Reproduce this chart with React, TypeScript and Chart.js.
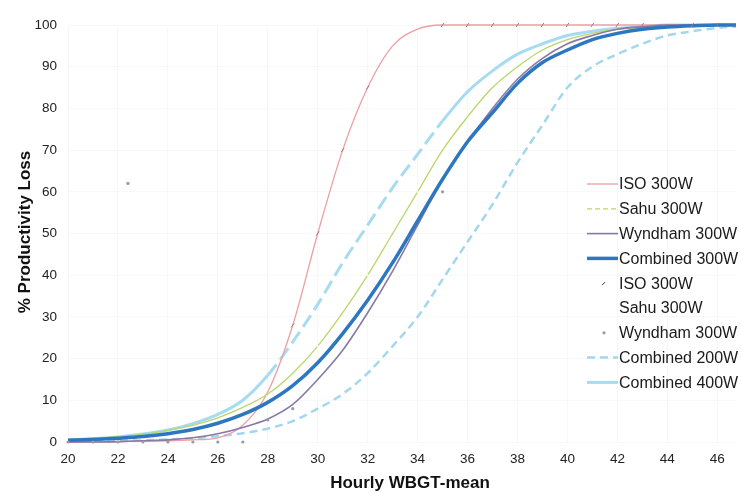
import React, { useEffect, useRef } from "react";
import { Chart, registerables } from "chart.js";

Chart.register(...registerables);

const wbgt = [20, 21, 22, 23, 24, 25, 26, 27, 28, 29, 30, 31, 32, 33, 34, 35, 36, 37, 38, 39, 40, 41, 42, 43, 44, 45, 46, 47];

const iso300 = [0, 0, 0.1, 0.2, 0.3, 0.5, 1, 4, 12, 28, 50, 70, 85, 95, 99, 100, 100, 100, 100, 100, 100, 100, 100, 100, 100, 100, 100, 100];
const sahu300 = [0.6, 0.9, 1.3, 1.9, 2.8, 4, 5.8, 8.3, 11.5, 16.5, 23, 31, 40, 50, 60, 70, 78, 85, 90, 94, 96.5, 98, 99, 99.5, 99.8, 100, 100, 100];
const wyndham300 = [0, 0, 0.1, 0.3, 0.5, 1, 2, 3.5, 5.5, 9, 15, 22, 31, 41, 52, 63, 72, 80, 87, 92, 95.5, 97.5, 99, 99.6, 100, 100, 100, 100];
const combined300 = [0.4, 0.6, 0.9, 1.3, 2, 3, 4.5, 6.6, 9.5, 13.5, 19, 26, 34, 43, 53, 63, 72, 79, 86, 91, 94, 96.5, 98, 99, 99.5, 99.8, 100, 100];
const combined200 = [0.1, 0.2, 0.3, 0.4, 0.6, 0.9, 1.4, 2.1, 3.2, 5, 8, 11.5, 16.5, 23, 30, 39, 48, 57, 67, 76, 85, 90, 93, 95.5, 97.5, 98.5, 99.3, 99.7];
const combined400 = [0.5, 0.8, 1.2, 1.9, 2.9, 4.4, 6.6, 10, 16, 24, 33, 43, 52, 61, 69, 77, 84, 89, 93, 95.5, 97.5, 98.5, 99.2, 99.6, 100, 100, 100, 100];

const isoPointsX = [29, 30, 31, 32, 35, 36, 37, 38, 39, 40, 41, 42, 43, 45, 46];
const isoPointsY = [28, 50, 70, 85, 100, 100, 100, 100, 100, 100, 100, 100, 100, 100, 100];
const sahuPointsX = [30, 32, 34];
const sahuPointsY = [23, 40, 60];
const wyndhamPointsX = [20, 21, 22, 23, 24, 25, 26, 27, 28, 29, 22.4, 35];
const wyndhamPointsY = [0, 0, 0, 0, 0, 0, 0, 0, 5.3, 8, 62, 60];

const xTicksMin = 20;
const xTicksMax = 46;
const xAxisMax = 46.75;

const toXY = (xs: number[], ys: number[]) => xs.map((x, i) => ({ x, y: ys[i] }));

const legendPlugin = {
  id: "insideLegend",
  afterDraw(chart: any) {
    const ctx = chart.ctx;
    const items = chart.data.datasets;
    const x0 = 587;
    const lineLen = 31;
    const y0 = 184;
    const step = 24.8;
    ctx.save();
    ctx.font = "16px 'Liberation Sans', Arial, sans-serif";
    ctx.textBaseline = "middle";
    ctx.textAlign = "left";
    items.forEach((ds: any, i: number) => {
      const y = y0 + i * step;
      if (ds.showLine !== false) {
        ctx.strokeStyle = ds.borderColor;
        ctx.lineWidth = ds.borderWidth;
        ctx.setLineDash(ds.legendDash || ds.borderDash || []);
        ctx.beginPath();
        ctx.moveTo(x0, y);
        ctx.lineTo(x0 + lineLen, y);
        ctx.stroke();
        ctx.setLineDash([]);
      } else if (ds.legendMark === "tick") {
        ctx.strokeStyle = "#333";
        ctx.lineWidth = 1;
        ctx.beginPath();
        ctx.moveTo(x0 + 15, y + 2);
        ctx.lineTo(x0 + 18, y - 1);
        ctx.stroke();
      } else if (ds.legendMark === "dot") {
        ctx.fillStyle = ds.pointBackgroundColor;
        ctx.beginPath();
        ctx.arc(x0 + 17, y, 1.6, 0, Math.PI * 2);
        ctx.fill();
      }
      ctx.fillStyle = "#1a1a1a";
      ctx.fillText(ds.label, x0 + lineLen + 1, y + 1);
    });

    // axis titles
    ctx.fillStyle = "#111";
    ctx.font = "bold 17px 'Liberation Sans', Arial, sans-serif";
    ctx.textAlign = "center";
    ctx.fillText("Hourly WBGT-mean", 410, 483);
    ctx.translate(25, 232);
    ctx.rotate(-Math.PI / 2);
    ctx.fillText("% Productivity Loss", 0, 0);
    ctx.restore();
  },
};

export default function App() {
  const ref = useRef<HTMLCanvasElement | null>(null);

  useEffect(() => {
    if (!ref.current) return;
    const clipRight = { left: 10, top: 10, right: 0, bottom: 10 };
    const line = (label: string, data: number[], color: string, width: number, order: number, extra: any = {}) => ({
      label,
      data: toXY(wbgt, data),
      borderColor: color,
      backgroundColor: color,
      borderWidth: width,
      pointRadius: 0,
      tension: 0.4,
      cubicInterpolationMode: "monotone",
      fill: false,
      clip: clipRight,
      order,
      ...extra,
    });
    const chart = new Chart(ref.current, {
      type: "line",
      data: {
        datasets: [
          line("ISO 300W", iso300, "#eba0a3", 1.3, 5),
          line("Sahu 300W", sahu300, "#b9d66a", 1.3, 4, { legendDash: [5, 3] }),
          line("Wyndham 300W", wyndham300, "#8a78a6", 1.6, 3),
          line("Combined 300W", combined300, "#2c77c0", 3.5, 2),
          {
            label: "ISO 300W",
            data: toXY(isoPointsX, isoPointsY),
            showLine: false,
            pointStyle: "line",
            pointRotation: -55,
            pointRadius: 2.5,
            pointBorderWidth: 1,
            pointBorderColor: "#b07474",
            pointBackgroundColor: "#b07474",
            borderColor: "#b07474",
            legendMark: "tick",
            clip: false,
            order: 0,
          },
          {
            label: "Sahu 300W",
            data: toXY(sahuPointsX, sahuPointsY),
            showLine: false,
            pointRadius: 1.2,
            pointBorderWidth: 0,
            pointBackgroundColor: "#f4f6ea",
            borderColor: "#f4f6ea",
            legendMark: "none",
            order: 0,
          },
          {
            label: "Wyndham 300W",
            data: toXY(wyndhamPointsX, wyndhamPointsY),
            showLine: false,
            pointRadius: 1.6,
            pointBorderWidth: 0,
            pointBackgroundColor: "#9a9aa4",
            borderColor: "#9a9aa4",
            legendMark: "dot",
            clip: false,
            order: 0,
          },
          line("Combined 200W", combined200, "#a3d7ee", 2.5, 6, { borderDash: [8, 5] }),
          line("Combined 400W", combined400, "#a6dbf1", 3, 7, {
            segment: {
              borderDash: (c: any) =>
                c.p0.parsed.y >= 16 && c.p0.parsed.y < 77 ? [14, 6] : undefined,
            },
          }),
        ],
      },
      options: {
        responsive: false,
        animation: false,
        layout: { padding: { top: 25, right: 0, left: 0, bottom: 0 } },
        plugins: {
          legend: { display: false },
          tooltip: { enabled: false },
        },
        scales: {
          x: {
            type: "linear",
            min: xTicksMin,
            max: xAxisMax,
            afterFit: (s: any) => {
              s.height = 52;
            },
            afterBuildTicks: (s: any) => {
              s.ticks = s.ticks.filter((t: any) => t.value % 2 === 0 && t.value <= xTicksMax);
            },
            ticks: {
              stepSize: 2,
              includeBounds: false,
              maxRotation: 0,
              autoSkip: false,
              padding: 9,
              color: "#222",
              font: { family: "'Liberation Sans', Arial, sans-serif", size: 13.5 },
            },
            grid: { color: "#f7f7f7", drawTicks: false },
            border: { display: false },
          },
          y: {
            type: "linear",
            min: 0,
            max: 100,
            afterFit: (s: any) => {
              s.width = 68;
            },
            ticks: {
              stepSize: 10,
              padding: 11,
              color: "#222",
              font: { family: "'Liberation Sans', Arial, sans-serif", size: 13.5 },
            },
            grid: { color: "#f8f8f8", drawTicks: false },
            border: { display: false },
          },
        },
      } as any,
      plugins: [legendPlugin],
    });
    return () => chart.destroy();
  }, []);

  return (
    <div style={{ position: "fixed", left: 0, top: 0, width: 741, height: 494, background: "#fff" }}>
      <canvas ref={ref} width={741} height={494} style={{ width: 741, height: 494 }} />
    </div>
  );
}
